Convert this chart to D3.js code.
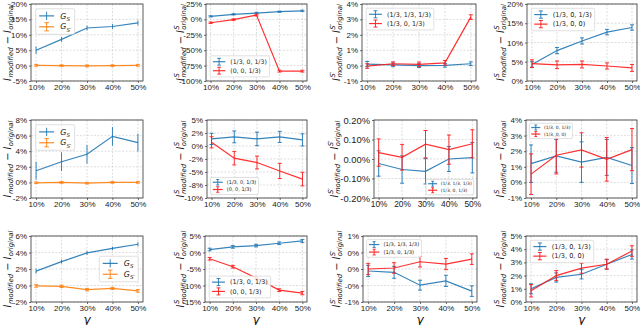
<!DOCTYPE html>
<html>
<head>
<meta charset="utf-8">
<script src="https://cdn.jsdelivr.net/npm/d3@7"></script>
<style>
body { margin: 0; background: #fff; }
svg { display: block; font-family: "DejaVu Sans", sans-serif; }
</style>
</head>
<body>
<svg id="chart" width="640" height="325"></svg>
<script>
// x axis: sampling ratio gamma
const gammas = [10, 20, 30, 40, 50]
const xTickLabels = ["10%", "20%", "30%", "40%", "50%"]

// legend labels
const lblA = "(1/3, 0, 1/3)"
const lblB = "(0, 0, 1/3)"
const lblC = "(1/3, 1/3, 1/3)"
const lblD = "(1/3, 0, 0)"

// row 1
const p1Gs = [5.0, 8.5, 12.2, 12.7, 13.9]
const p1GsErr = [1.2, 0.8, 0.8, 0.8, 0.8]
const p1Gsp = [0.1, 0.0, -0.1, 0.0, 0.1]
const p1GspErr = [0.3, 0.25, 0.3, 0.25, 0.3]
const p1YTicks = [-5, 0, 5, 10, 15, 20]

const p2Blue = [4.9, 8.2, 10.3, 12.5, 14.0]
const p2BlueErr = [1.0, 1.0, 1.2, 1.0, 1.0]
const p2Red = [-5.4, -0.3, 7.0, -84, -84]
const p2RedErr = [1.2, 1.2, 1.5, 1.5, 1.5]
const p2YTicks = [-100, -75, -50, -25, 0, 25]

const p3Blue = [0.1, 0.05, 0.0, 0.02, 0.12]
const p3BlueErr = [0.17, 0.12, 0.12, 0.12, 0.12]
const p3Red = [-0.03, 0.12, 0.08, 0.18, 3.15]
const p3RedErr = [0.15, 0.12, 0.15, 0.15, 0.15]
const p3YTicks = [-1, 0, 1, 2, 3, 4]

const p4Blue = [4.3, 7.9, 10.4, 12.7, 13.9]
const p4BlueErr = [0.7, 0.8, 0.8, 0.7, 0.7]
const p4Red = [4.5, 4.2, 4.3, 3.9, 3.4]
const p4RedErr = [1.0, 1.0, 0.9, 0.8, 0.9]
const p4YTicks = [0, 5, 10, 15, 20]

// row 2
const p5Gs = [1.5, 2.65, 3.6, 5.9, 5.1]
const p5GsErr = [1.15, 1.2, 1.2, 1.2, 1.15]
const p5Gsp = [-0.05, 0.0, -0.1, 0.0, 0.0]
const p5GspErr = [0.1, 0.1, 0.1, 0.1, 0.1]
const p5YTicks = [-2, 0, 2, 4, 6, 8]

const p6Blue = [1.36, 1.75, 1.36, 1.75, 1.17]
const p6BlueErr = [1.07, 1.14, 1.3, 1.07, 1.17]
const p6Red = [0.71, -2.34, -3.18, -4.8, -6.36]
const p6RedErr = [1.07, 1.3, 1.23, 1.46, 1.3]
const p6YTicks = [-10, -7.5, -5, -2.5, 0, 2.5, 5]
const p6YTickLabels = ["-10%", "-8%", "-5%", "-2%", "0%", "2%", "5%"]

const p7Blue = [-0.023, -0.054, -0.063, 0.0, 0.007]
const p7BlueErr = [0.065, 0.07, 0.065, 0.064, 0.078]
const p7Red = [0.033, 0.009, 0.076, 0.048, 0.078]
const p7RedErr = [0.07, 0.066, 0.07, 0.075, 0.072]
const p7YTicks = [-0.2, -0.1, 0, 0.1, 0.2]
const p7YTickLabels = ["-0.20%", "-0.10%", "0.00%", "0.10%", "0.20%"]

const p8Blue = [1.2, 1.7, 1.3, 1.6, 1.08]
const p8BlueErr = [1.2, 1.05, 1.3, 1.15, 1.15]
const p8Red = [0.53, 1.74, 2.08, 1.48, 2.1]
const p8RedErr = [1.3, 1.2, 1.1, 1.4, 1.35]
const p8YTicks = [-1, 0, 1, 2, 3, 4]

// row 3
const p9Gs = [1.75, 2.9, 3.95, 4.5, 5.0]
const p9GsErr = [0.3, 0.25, 0.25, 0.2, 0.25]
const p9Gsp = [-0.05, -0.1, -0.5, -0.35, -0.65]
const p9GspErr = [0.15, 0.15, 0.15, 0.12, 0.15]
const p9YTicks = [-2, 0, 2, 4, 6]

const p10Blue = [0.9, 1.7, 2.1, 2.8, 3.5]
const p10BlueErr = [0.4, 0.4, 0.4, 0.4, 0.45]
const p10Red = [-1.9, -4.3, -7.7, -11.4, -12.3]
const p10RedErr = [0.4, 0.4, 0.35, 0.4, 0.5]
const p10YTicks = [-15, -10, -5, 0, 5]

const p11Blue = [-0.06, -0.1, -0.49, -0.36, -0.67]
const p11BlueErr = [0.17, 0.18, 0.15, 0.17, 0.16]
const p11Red = [0.0, 0.03, 0.22, 0.15, 0.3]
const p11RedErr = [0.17, 0.16, 0.16, 0.17, 0.16]
const p11YTicks = [-1, -0.5, 0, 0.5, 1]
const p11YTickLabels = ["-1%", "-0%", "0%", "0%", "1%"]

const p12Blue = [1.0, 1.86, 2.1, 2.86, 3.6]
const p12BlueErr = [0.38, 0.35, 0.35, 0.35, 0.35]
const p12Red = [0.85, 2.0, 2.56, 2.86, 3.86]
const p12RedErr = [0.47, 0.38, 0.38, 0.38, 0.4]
const p12YTicks = [0, 1, 2, 3, 4, 5]

const blue = "#1f77b4", orange = "#ff7f0e", red = "#ff1a1a"
const pct = d => d + "%"

const gsLbl = [{base: "G", sub: "S"}]
const gspLbl = [{base: "G", sub: "S\u2032"}]
const yLbl = sup => [
  {base: "I", sup: sup, sub: "modified"},
  {base: " \u2212 ", plain: true},
  {base: "I", sup: sup, sub: "original"}
]

const gs = (v, e) => ({values: v, err: e, color: blue, caps: false, label: gsLbl})
const gsp = (v, e) => ({values: v, err: e, color: orange, caps: true, label: gspLbl})
const ser = (v, e, c, l) => ({values: v, err: e, color: c, caps: true, label: l})

const panels = [
  {box: [31, 143, 4, 81], ticks: p1YTicks, labels: p1YTicks.map(pct), ylab: yLbl(null), labX: 7,
   series: [gs(p1Gs, p1GsErr), gsp(p1Gsp, p1GspErr)], legend: {pos: "ul", fs: 7.5}},
  {box: [206, 307, 4, 81], ticks: p2YTicks, labels: p2YTicks.map(pct), ylab: yLbl("S"), labX: 180,
   series: [ser(p2Blue, p2BlueErr, blue, lblA), ser(p2Red, p2RedErr, red, lblB)], legend: {pos: "ll", fs: 6.2}},
  {box: [362, 476, 4, 81], ticks: p3YTicks, labels: p3YTicks.map(pct), ylab: yLbl("S\u2032"), labX: 336,
   series: [ser(p3Blue, p3BlueErr, blue, lblC), ser(p3Red, p3RedErr, red, lblA)], legend: {pos: "ul", fs: 6.4}},
  {box: [527, 637, 4, 81], ticks: p4YTicks, labels: p4YTicks.map(pct), ylab: yLbl("S"), labX: 500,
   series: [ser(p4Blue, p4BlueErr, blue, lblA), ser(p4Red, p4RedErr, red, lblD)], legend: {pos: "ul", fs: 6.6}},

  {box: [31, 143, 120, 198], ticks: p5YTicks, labels: p5YTicks.map(pct), ylab: yLbl(null), labX: 7,
   series: [gs(p5Gs, p5GsErr), gsp(p5Gsp, p5GspErr)], legend: {pos: "ul", fs: 7.5}},
  {box: [207, 307, 120, 198], ticks: p6YTicks, labels: p6YTickLabels, ylab: yLbl("S"), labX: 180,
   series: [ser(p6Blue, p6BlueErr, blue, lblA), ser(p6Red, p6RedErr, red, lblB)], legend: {pos: "ll", fs: 5}},
  {box: [374, 477, 120, 198], ticks: p7YTicks, labels: p7YTickLabels, ylab: yLbl("S\u2032"), labX: 334, big: true,
   series: [ser(p7Blue, p7BlueErr, blue, lblC), ser(p7Red, p7RedErr, red, lblA)], legend: {pos: "lr", fs: 4.5}},
  {box: [526, 637, 120, 198], ticks: p8YTicks, labels: p8YTicks.map(pct), ylab: yLbl("S"), labX: 500,
   series: [ser(p8Blue, p8BlueErr, blue, lblA), ser(p8Red, p8RedErr, red, lblD)], legend: {pos: "ul", fs: 4.5}},

  {box: [31, 143, 236, 302], ticks: p9YTicks, labels: p9YTicks.map(pct), ylab: yLbl(null), labX: 7,
   series: [gs(p9Gs, p9GsErr), gsp(p9Gsp, p9GspErr)], legend: {pos: "cr", fs: 7.5}},
  {box: [205, 307, 236, 302], ticks: p10YTicks, labels: p10YTicks.map(pct), ylab: yLbl("S"), labX: 180,
   series: [ser(p10Blue, p10BlueErr, blue, lblA), ser(p10Red, p10RedErr, red, lblB)], legend: {pos: "ll", fs: 6.4}},
  {box: [363, 477, 236, 302], ticks: p11YTicks, labels: p11YTickLabels, ylab: yLbl("S\u2032"), labX: 336,
   series: [ser(p11Blue, p11BlueErr, blue, lblC), ser(p11Red, p11RedErr, red, lblA)], legend: {pos: "ul", fs: 5.2}},
  {box: [526, 637, 236, 302], ticks: p12YTicks, labels: p12YTicks.map(pct), ylab: yLbl("S"), labX: 500,
   series: [ser(p12Blue, p12BlueErr, blue, lblA), ser(p12Red, p12RedErr, red, lblD)], legend: {pos: "ul", fs: 6.6}}
]

const svg = d3.select("#chart")

// math-like text: italic base with stacked super/subscripts; returns total width
function mathText(g, parts, fs, fill) {
  let cx = 0
  parts.forEach(p => {
    const b = g.append("text").attr("x", cx).attr("y", 0)
      .attr("font-size", fs).attr("fill", fill)
      .attr("font-style", p.plain ? "normal" : "italic")
      .attr("xml:space", "preserve").text(p.base)
    cx += b.node().getComputedTextLength() + (p.plain ? 0 : fs * 0.04)
    let w = 0
    if (p.sup) {
      const s = g.append("text").attr("x", cx).attr("y", -fs * 0.42)
        .attr("font-size", fs * 0.7).attr("font-style", "italic").attr("fill", fill).text(p.sup)
      w = Math.max(w, s.node().getComputedTextLength())
    }
    if (p.sub) {
      const s = g.append("text").attr("x", cx).attr("y", fs * 0.28)
        .attr("font-size", fs * 0.7).attr("font-style", "italic").attr("fill", fill).text(p.sub)
      w = Math.max(w, s.node().getComputedTextLength())
    }
    cx += w
  })
  return cx
}

panels.forEach((p, i) => {
  const [x0, x1, y0, y1] = p.box
  const x = d3.scaleLinear().domain([8, 52]).range([x0, x1])
  const y = d3.scaleLinear().domain(d3.extent(p.ticks)).range([y1, y0])
  const g = svg.append("g")
  const tfs = p.big ? 9.4 : 8
  const xfs = p.big ? 8.4 : 8

  // grid
  g.append("g").selectAll("line").data(gammas).join("line")
    .attr("x1", d => x(d)).attr("x2", d => x(d)).attr("y1", y0).attr("y2", y1)
    .attr("stroke", "#c8c8c8").attr("stroke-width", 0.6).attr("stroke-dasharray", "2,1.5")
  g.append("g").selectAll("line").data(p.ticks).join("line")
    .attr("x1", x0).attr("x2", x1).attr("y1", d => y(d)).attr("y2", d => y(d))
    .attr("stroke", "#c8c8c8").attr("stroke-width", 0.6).attr("stroke-dasharray", "2,1.5")

  // axes
  const ax = g.append("g").attr("transform", `translate(0,${y1})`)
    .call(d3.axisBottom(x).tickValues(gammas).tickFormat((d, k) => xTickLabels[k]).tickSize(2).tickPadding(1))
  ax.selectAll("text").attr("font-size", xfs).attr("fill", "#222").attr("dy", "0.7em")
  const ay = g.append("g").attr("transform", `translate(${x0},0)`)
    .call(d3.axisLeft(y).tickValues(p.ticks).tickFormat((d, k) => p.labels[k]).tickSize(2).tickPadding(2))
  ay.selectAll("text").attr("font-size", tfs).attr("fill", "#222")
  g.selectAll(".domain").remove()
  g.selectAll(".tick line").attr("stroke", "#333").attr("stroke-width", 0.7)
  g.append("rect").attr("x", x0).attr("y", y0).attr("width", x1 - x0).attr("height", y1 - y0)
    .attr("fill", "none").attr("stroke", "#333").attr("stroke-width", 0.8)

  // series
  const line = d3.line().x((d, k) => x(gammas[k])).y(d => y(d))
  p.series.forEach(s => {
    const sg = g.append("g").attr("stroke", s.color).attr("fill", "none").attr("stroke-opacity", 0.9)
    sg.append("path").attr("d", line(s.values)).attr("stroke-width", 1.2)
    const eb = sg.selectAll("g").data(s.values).join("g")
    eb.append("line")
      .attr("x1", (d, k) => x(gammas[k])).attr("x2", (d, k) => x(gammas[k]))
      .attr("y1", (d, k) => y(d - s.err[k])).attr("y2", (d, k) => y(d + s.err[k]))
      .attr("stroke-width", 1)
    if (s.caps) {
      [-1, 1].forEach(sign => eb.append("line")
        .attr("x1", (d, k) => x(gammas[k]) - 2).attr("x2", (d, k) => x(gammas[k]) + 2)
        .attr("y1", (d, k) => y(d + sign * s.err[k])).attr("y2", (d, k) => y(d + sign * s.err[k]))
        .attr("stroke-width", 1))
    }
  })

  // y label
  const lg = svg.append("g")
  const w = mathText(lg, p.ylab, 9.8, "#111")
  lg.attr("transform", `translate(${p.labX + 3.5},${(y0 + y1) / 2}) rotate(-90) translate(${-w / 2},0)`)

  // gamma label on bottom row
  if (i >= 8) {
    svg.append("text").attr("x", (x0 + x1) / 2).attr("y", 323.5).attr("text-anchor", "middle")
      .attr("font-size", 12).attr("font-style", "italic").attr("fill", "#111").text("\u03b3")
  }

  // legend
  const L = p.legend, fs = L.fs
  const leg = svg.append("g")
  const pad = 0.45 * fs, hl = 2 * fs, tp = 0.8 * fs, rowH = 1.45 * fs
  let maxW = 0
  p.series.forEach((s, k) => {
    const rg = leg.append("g")
    const tg = rg.append("g").attr("transform", `translate(${pad + hl + tp},${pad + k * rowH + fs * 0.85})`)
    const tw = typeof s.label === "string"
      ? tg.append("text").attr("font-size", fs).attr("fill", "#222").text(s.label).node().getComputedTextLength()
      : mathText(tg, s.label, fs * 1.05, "#222")
    maxW = Math.max(maxW, tw)
    const cy = pad + k * rowH + fs * 0.5
    const hg = rg.append("g").attr("stroke", s.color).attr("stroke-opacity", 0.9)
    hg.append("line").attr("x1", pad).attr("x2", pad + hl).attr("y1", cy).attr("y2", cy).attr("stroke-width", 1.2)
    hg.append("line").attr("x1", pad + hl / 2).attr("x2", pad + hl / 2)
      .attr("y1", cy - fs * 0.55).attr("y2", cy + fs * 0.55).attr("stroke-width", 1)
    if (s.caps) {
      [-1, 1].forEach(sg => hg.append("line").attr("x1", pad + hl / 2 - fs * 0.3).attr("x2", pad + hl / 2 + fs * 0.3)
        .attr("y1", cy + sg * fs * 0.55).attr("y2", cy + sg * fs * 0.55).attr("stroke-width", 1))
    }
  })
  const lw = pad * 2 + hl + tp + maxW, lh = pad * 2 + (p.series.length - 1) * rowH + fs * 1.05
  leg.insert("rect", ":first-child").attr("width", lw).attr("height", lh).attr("rx", 1.5)
    .attr("fill", "#fff").attr("fill-opacity", 0.85).attr("stroke", "#ccc").attr("stroke-width", 0.6)
  const m = 0.5 * fs + 1
  let lx = x0 + m, ly = y0 + m
  if (L.pos === "ll") ly = y1 - m - lh
  if (L.pos === "lr") { lx = x1 - m - lw; ly = y1 - m - lh }
  if (L.pos === "cr") { lx = x1 - m - lw; ly = (y0 + y1) / 2 - lh / 2 }
  leg.attr("transform", `translate(${lx},${ly})`)
})
</script>
</body>
</html>
